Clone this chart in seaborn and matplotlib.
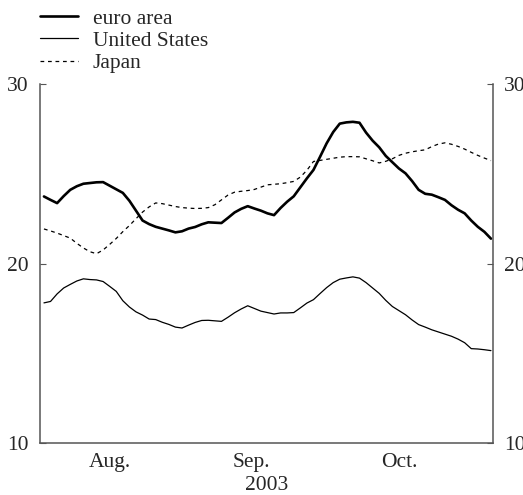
import numpy as np
import pandas as pd
import matplotlib
matplotlib.use("Agg")
import matplotlib.pyplot as plt
import seaborn as sns

# Business days from 1 Aug 2003
dates = pd.bdate_range("2003-08-01", periods=69)

euro_area = [23.74, 23.55, 23.37, 23.76, 24.11, 24.31, 24.45, 24.49, 24.53, 24.54,
             24.34, 24.14, 23.94, 23.50, 22.95, 22.40, 22.20, 22.05, 21.95, 21.85,
             21.74, 21.80, 21.95, 22.04, 22.19, 22.30, 22.28, 22.26, 22.55, 22.85,
             23.05, 23.20, 23.07, 22.95, 22.80, 22.70, 23.10, 23.45, 23.75, 24.25,
             24.75, 25.22, 25.95, 26.70, 27.33, 27.80, 27.87, 27.90, 27.85, 27.30,
             26.85, 26.48, 26.00, 25.65, 25.30, 25.03, 24.60, 24.11, 23.89, 23.84,
             23.70, 23.55, 23.25, 23.00, 22.80, 22.40, 22.05, 21.77, 21.39]

united_states = [17.81, 17.89, 18.31, 18.64, 18.84, 19.03, 19.15, 19.11, 19.09, 19.00,
                 18.73, 18.45, 17.93, 17.58, 17.31, 17.13, 16.91, 16.88, 16.73, 16.61,
                 16.46, 16.41, 16.57, 16.72, 16.83, 16.84, 16.81, 16.78, 17.01, 17.26,
                 17.47, 17.65, 17.50, 17.35, 17.27, 17.19, 17.25, 17.25, 17.27, 17.53,
                 17.80, 17.99, 18.33, 18.66, 18.94, 19.13, 19.20, 19.26, 19.19, 18.94,
                 18.64, 18.34, 17.95, 17.61, 17.38, 17.15, 16.86, 16.60, 16.46, 16.31,
                 16.19, 16.07, 15.95, 15.79, 15.59, 15.26, 15.24, 15.20, 15.15]

japan = [21.93, 21.82, 21.70, 21.56, 21.42, 21.13, 20.87, 20.66, 20.55, 20.76,
         21.07, 21.40, 21.78, 22.12, 22.50, 22.87, 23.16, 23.38, 23.34, 23.26,
         23.18, 23.12, 23.09, 23.07, 23.08, 23.12, 23.28, 23.55, 23.82, 23.98,
         24.03, 24.07, 24.13, 24.26, 24.39, 24.42, 24.45, 24.51, 24.58, 24.82,
         25.20, 25.69, 25.75, 25.81, 25.87, 25.93, 25.96, 25.96, 25.95, 25.84,
         25.73, 25.61, 25.70, 25.84, 26.03, 26.15, 26.23, 26.29, 26.34, 26.52,
         26.66, 26.73, 26.65, 26.53, 26.38, 26.20, 26.03, 25.88, 25.74]

month_labels = ["Aug.", "Sep.", "Oct."]
year_label = "2003"
y_ticks = [10, 20, 30]

df = pd.DataFrame({"pos": np.arange(len(dates)), "date": dates,
                   "euro area": euro_area, "United States": united_states,
                   "Japan": japan})

FS = 15.5
sns.set_style("white")
plt.rcParams["font.family"] = ["Liberation Serif", "DejaVu Serif"]
plt.rcParams["font.size"] = FS

fig = plt.figure(figsize=(5.23, 4.95), dpi=100)
ax = fig.add_axes([0.0765, 0.105, 0.866, 0.725])

spine_col = "#555555"
sns.lineplot(data=df, x="pos", y="euro area", ax=ax, color="black",
             linewidth=1.9, label="euro area")
sns.lineplot(data=df, x="pos", y="United States", ax=ax, color="black",
             linewidth=0.9, label="United States")
sns.lineplot(data=df, x="pos", y="Japan", ax=ax, color="black",
             linewidth=0.9, linestyle=(0, (3, 3)), label="Japan")

ax.set_xlim(-0.6, 68.3)
ax.set_ylim(10, 30)
ax.set_xlabel("")
ax.set_ylabel("")

# month boundaries and month centres
month = df["date"].dt.month.values
bound_idx = [i for i in range(1, len(month)) if month[i] != month[i - 1]]
bounds = [i - 0.5 for i in bound_idx]
centres = [df["pos"][month == m].mean() for m in (8, 9, 10)]

ax.set_xticks(bounds)
ax.set_xticklabels([])
ax.set_xticks(centres, minor=True)
ax.set_xticklabels(month_labels, minor=True)
ax.tick_params(axis="x", which="major", direction="in", length=4,
               color=spine_col, width=1)
ax.tick_params(axis="x", which="minor", length=0, pad=7, labelsize=FS)
# longer tick at the start of a quarter
for i, tick in zip(bound_idx, ax.xaxis.get_major_ticks()):
    if month[i] in (1, 4, 7, 10):
        tick.tick1line.set_markersize(9)

ax.text(0.5, -0.117, year_label, transform=ax.transAxes, ha="center",
        va="center", fontsize=FS)

ax.set_yticks(y_ticks)
ax.tick_params(axis="y", which="both", direction="in", length=4,
               color=spine_col, left=True, right=True,
               labelleft=True, labelright=True, pad=8, labelsize=FS)

for side in ("left", "right", "bottom"):
    ax.spines[side].set_color(spine_col)
    ax.spines[side].set_linewidth(1.1)
ax.spines["top"].set_visible(False)

handles, labels = ax.get_legend_handles_labels()
ax.get_legend().remove()
fig.legend(handles, labels, loc="upper left", bbox_to_anchor=(0.06, 1.0),
           frameon=False, handlelength=1.75, handletextpad=0.7,
           labelspacing=0.1, fontsize=FS, borderaxespad=0)

fig.savefig("out.png", dpi=100)
